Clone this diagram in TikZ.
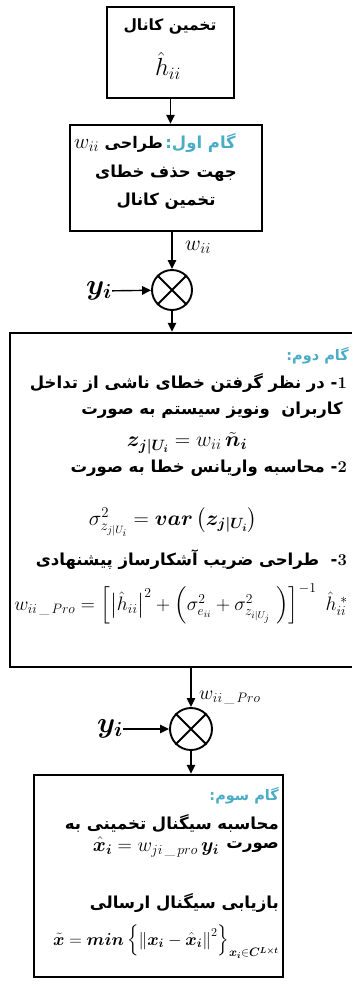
\RequirePackage{fix-cm}
\documentclass[tikz,border=0pt]{standalone}
\usepackage{amsmath}
\usepackage{bm}
\usepackage{fontspec}
\usetikzlibrary{positioning,arrows.meta}
\definecolor{stepblue}{RGB}{75,172,198}
\TeXXeTstate=1
\newfontfamily\farsi[Script=Arabic]{DejaVu Sans}
\newcommand{\rtl}[1]{\beginR#1\endR}
\newcommand{\inl}[1]{\beginL#1\endL{}}

\begin{document}
\begin{tikzpicture}[x=1pt,y=-1pt,
  blk/.style={draw,line width=2.5pt,inner sep=0pt},
  flow/.style={line width=1.4pt,-{Triangle[length=9pt,width=8.5pt]}},
  mul/.style={draw,circle,line width=1.9pt,inner sep=0pt,minimum size=#1},
  fa/.style={inner sep=0pt,font=\farsi\bfseries\fontsize{#1}{#1}\selectfont},
  fa/.default=16.5,
  mth/.style={inner sep=0pt,font=\fontsize{#1}{#1}\selectfont},
  mth/.default=21.4]
  \useasboundingbox (0,0) rectangle (351,985);
  % boxes
  \node[blk,minimum width=127pt,minimum height=91pt] (est) at (170.5,52.5) {};
  \node[blk,minimum width=192pt,minimum height=106pt] (wdesign) at (166,178) {};
  \node[blk,minimum width=346pt,minimum height=334pt] (step2) at (183,500) {};
  \node[blk,minimum width=249pt,minimum height=202pt] (step3) at (158.5,876) {};
  \node[mul=40pt] (mul1) at (172,290) {};
  \node[mul=42pt] (mul2) at (191,729) {};
  \foreach \m in {mul1,mul2}
    \draw[line width=1.9pt] (\m.north west) -- (\m.south east)
      (\m.north east) -- (\m.south west);
  % channel estimate
  \node[fa=15.5] (est-t) at (170,27) {\rtl{تخمین کانال}};
  \node[mth=24.7] (est-h) at (168,66) {$\hat{h}_{ii}$};
  % step one
  \node[fa=16.5,anchor=east,text=stepblue] (wd-h) at (236,143) {\rtl{گام اول:}};
  \node[fa=16,anchor=base east] (wd-1) at ([xshift=-2pt]wd-h.base west)
    {\rtl{طراحی \inl{\fontsize{21}{21}\selectfont$w_{ii}$}}};
  \node[fa=16.5] (wd-2) at (166,173) {\rtl{جهت حذف خطای}};
  \node[fa=16.5] (wd-3) at (166,201) {\rtl{تخمین کانال}};
  % first multiplier
  \node[mth=29] (y1) at (99,291) {$\bm{y_i}$};
  \node[mth=21.6,anchor=west] (w1) at (185,247) {$w_{ii}$};
  \draw[flow] (est.south) -- (est.south |- wdesign.north);
  \draw[flow] (wdesign.south -| mul1) -- (mul1.north);
  \draw[flow] (y1) -- (mul1);
  \draw[flow] (mul1.south) -- (mul1 |- step2.north);
  % step two
  \node[fa=14.5,anchor=east,text=stepblue] (s2-h) at (349,356) {\rtl{گام دوم:}};
  \foreach \n/\y/\txt in {1/383/{در نظر گرفتن خطای ناشی از تداخل},
      2/468/{محاسبه واریانس خطا به صورت},
      3/560/{ طراحی ضریب آشکارساز پیشنهادی}}
    \node[fa,anchor=east] (s2-\n) at (347,\y)
      {\rtl{\inl{$\bm{\n}$}\kern0pt- \txt}};
  \node[fa,anchor=east] (s2-1b) at (343,410) {\rtl{کاربران\ \ ونویز سیستم به صورت}};
  \node[mth] (s2-z) at (187,443) {$\bm{z}_{\bm{j|U_i}} = w_{ii}\,\bm{\tilde{n}_i}$};
  \node[mth=21.2] (s2-s) at (173,522)
    {$\sigma^2_{z_{j|U_i}} = \bm{var}\left(\bm{z}_{\bm{j|U_i}}\right)$};
  \node[mth=19.5] (s2-w) at (181,604)
    {$w_{ii\,\_\,Pro} = \left[\left|\hat{h}_{ii}\right|^2 + \left(\sigma^2_{e_{ii}} + \sigma^2_{z_{i|U_j}}\ \right)\right]^{-1}\ \hat{h}_{ii}^{\;*}$};
  % second multiplier
  \node[mth=29] (y2) at (110,729) {$\bm{y_i}$};
  \node[mth=19.6,anchor=west] (w2) at (199,698) {$w_{ii\,\_\,Pro}$};
  \draw[flow] (step2.south -| mul2) -- (mul2.north);
  \draw[flow] (y2) -- (mul2);
  \draw[flow] (mul2.south) -- (mul2 |- step3.north);
  % step three
  \node[fa=14.5,anchor=east,text=stepblue] (s3-h) at (279,796) {\rtl{گام سوم:}};
  \node[fa,anchor=east] (s3-1) at (279,823) {\rtl{محاسبه سیگنال تخمینی به}};
  \node[fa,anchor=east] (s3-2) at (279,847) {\rtl{صورت}};
  \node[mth=19.9,anchor=east] (s3-xh) at ([xshift=-7pt]s3-2.west)
    {$\bm{\hat{x}_i} = w_{ji\,\_\,pro}\,\bm{y_i}$};
  \node[fa,anchor=east] (s3-3) at (279,903) {\rtl{بازیابی سیگنال ارسالی}};
  \node[mth=17.4] (s3-x) at (166,942)
    {$\bm{\tilde{x}} = \bm{min}\left\{\left\|\bm{x_i} - \bm{\hat{x}_i}\right\|^2\right\}_{\bm{x_i}\in\bm{C}^{\bm{L\times t}}}$};
\end{tikzpicture}
\end{document}
